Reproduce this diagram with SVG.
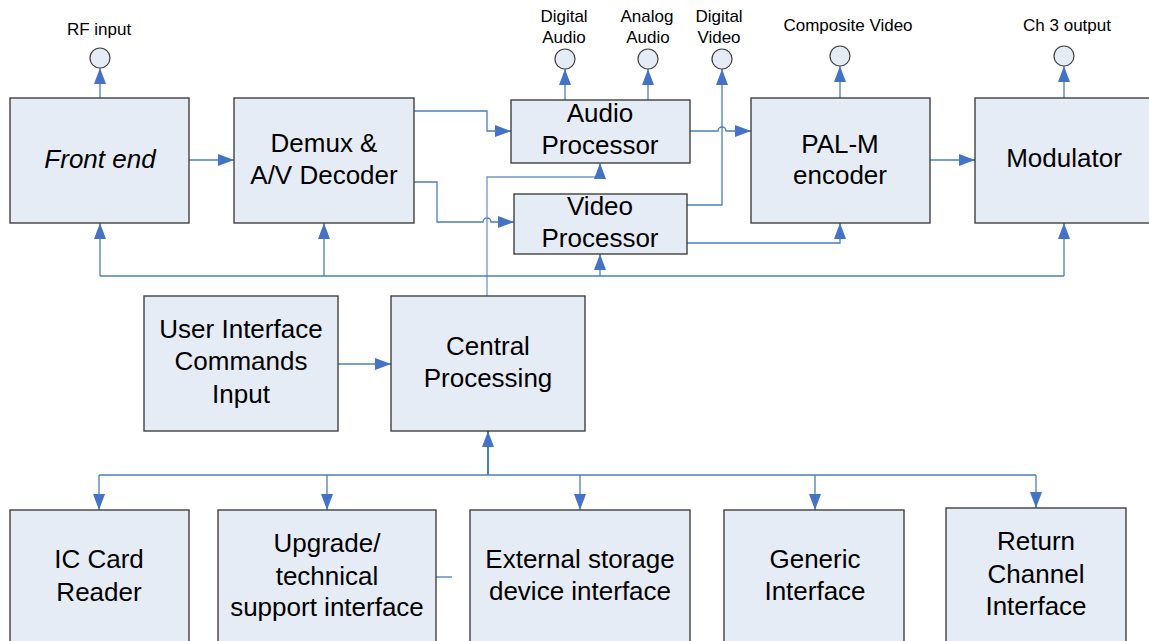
<svg xmlns="http://www.w3.org/2000/svg" width="1149" height="641" viewBox="0 0 1149 641">
<style>
.box{fill:#e6ecf6;stroke:#404040;stroke-width:1.4}
.port{fill:#e6ecf6;stroke:#404040;stroke-width:1.2}
.t{font-family:"Liberation Sans",Arial,sans-serif;font-size:26px;fill:#000;text-anchor:middle}
.s{font-family:"Liberation Sans",Arial,sans-serif;font-size:17px;fill:#000;text-anchor:middle}
.c{fill:none;stroke:#4a7ebb;stroke-width:1.3}
.ca{fill:none;stroke:#4a7ebb;stroke-width:1.3;marker-end:url(#ah)}
</style>
<defs>
<marker id="ah" markerUnits="userSpaceOnUse" markerWidth="17" markerHeight="13" refX="16" refY="6" orient="auto">
<path d="M0,0 L16,6 L0,12 z" fill="#4472c4"/>
</marker>
</defs>
<rect width="1149" height="641" fill="#fff"/>

<g id="connectors">
<path class="ca" d="M100,98 V68"/>
<path class="ca" d="M565,100 V69"/>
<path class="ca" d="M648,100 V69"/>
<path class="ca" d="M840,98 V66"/>
<path class="ca" d="M1064,98 V66"/>
<path class="ca" d="M189,160 H234"/>
<path class="ca" d="M414,111 H487 V131 H511"/>
<path class="ca" d="M414,182 H437 V222 H483 A4,4 0 0 1 491,222 H514"/>
<path class="ca" d="M690,131 H718 A4,4 0 0 1 726,131 H751"/>
<path class="ca" d="M687,205 H722 V69"/>
<path class="ca" d="M687,243 H840 V223"/>
<path class="ca" d="M930,160 H975"/>
<path class="ca" d="M487,296 V177 H600 V163" style="stroke:#6f96cf"/>
<path class="c" d="M100,276 H1064"/>
<path class="ca" d="M100,276 V223"/>
<path class="ca" d="M324,276 V223"/>
<path class="ca" d="M600,276 V254"/>
<path class="ca" d="M1064,276 V223"/>
<path class="ca" d="M338,364 H391"/>
<path class="ca" d="M488,475 V431" style="stroke-width:2"/>
<path class="c" d="M99,475 H1036"/>
<path class="ca" d="M99,475 V510"/>
<path class="ca" d="M327,475 V510"/>
<path class="ca" d="M580,475 V510"/>
<path class="ca" d="M815,475 V510"/>
<path class="ca" d="M1036,475 V508"/>
<path class="c" d="M436,577 H452"/>
</g>

<g id="port-rf"><circle class="port" cx="100" cy="58" r="10"/><text class="s" x="99" y="35">RF input</text></g>
<g id="port-digital-audio"><circle class="port" cx="565" cy="59" r="10"/><text class="s" x="564" y="22">Digital</text><text class="s" x="564" y="43">Audio</text></g>
<g id="port-analog-audio"><circle class="port" cx="648" cy="59" r="10"/><text class="s" x="647" y="22">Analog</text><text class="s" x="648" y="43">Audio</text></g>
<g id="port-digital-video"><circle class="port" cx="722" cy="59" r="10"/><text class="s" x="719" y="22">Digital</text><text class="s" x="719" y="43">Video</text></g>
<g id="port-composite"><circle class="port" cx="840" cy="56" r="10"/><text class="s" x="848" y="31">Composite Video</text></g>
<g id="port-ch3"><circle class="port" cx="1064" cy="56" r="10"/><text class="s" x="1067" y="31">Ch 3 output</text></g>

<g id="front-end"><rect class="box" x="10" y="98" width="179" height="125"/><text class="t" x="100" y="168" font-style="italic">Front end</text></g>
<g id="demux"><rect class="box" x="234" y="98" width="180" height="125"/><text class="t" x="324" y="152">Demux &amp;</text><text class="t" x="324" y="184">A/V Decoder</text></g>
<g id="audio-processor"><rect class="box" x="511" y="100" width="179" height="63"/><text class="t" x="600" y="122">Audio</text><text class="t" x="600" y="154">Processor</text></g>
<g id="video-processor"><rect class="box" x="514" y="194" width="173" height="60"/><text class="t" x="600" y="215">Video</text><text class="t" x="600" y="247">Processor</text></g>
<g id="pal-m"><rect class="box" x="751" y="98" width="179" height="125"/><text class="t" x="840" y="153">PAL-M</text><text class="t" x="840" y="184">encoder</text></g>
<g id="modulator"><rect class="box" x="975" y="98" width="179" height="125"/><text class="t" x="1064" y="167">Modulator</text></g>
<g id="user-interface"><rect class="box" x="144" y="296" width="194" height="135"/><text class="t" x="241" y="338">User Interface</text><text class="t" x="241" y="370">Commands</text><text class="t" x="241" y="403">Input</text></g>
<g id="central"><rect class="box" x="391" y="296" width="194" height="135"/><text class="t" x="488" y="355">Central</text><text class="t" x="488" y="387">Processing</text></g>
<g id="ic-card"><rect class="box" x="10" y="510" width="179" height="140"/><text class="t" x="99" y="568">IC Card</text><text class="t" x="99" y="601">Reader</text></g>
<g id="upgrade"><rect class="box" x="218" y="510" width="218" height="140"/><text class="t" x="327" y="552">Upgrade/</text><text class="t" x="327" y="585">technical</text><text class="t" x="327" y="616">support interface</text></g>
<g id="external-storage"><rect class="box" x="470" y="510" width="220" height="140"/><text class="t" x="580" y="568">External storage</text><text class="t" x="580" y="600">device interface</text></g>
<g id="generic"><rect class="box" x="724" y="510" width="180" height="140"/><text class="t" x="815" y="568">Generic</text><text class="t" x="815" y="600">Interface</text></g>
<g id="return-channel"><rect class="box" x="946" y="508" width="180" height="142"/><text class="t" x="1036" y="550">Return</text><text class="t" x="1036" y="583">Channel</text><text class="t" x="1036" y="615">Interface</text></g>
</svg>
